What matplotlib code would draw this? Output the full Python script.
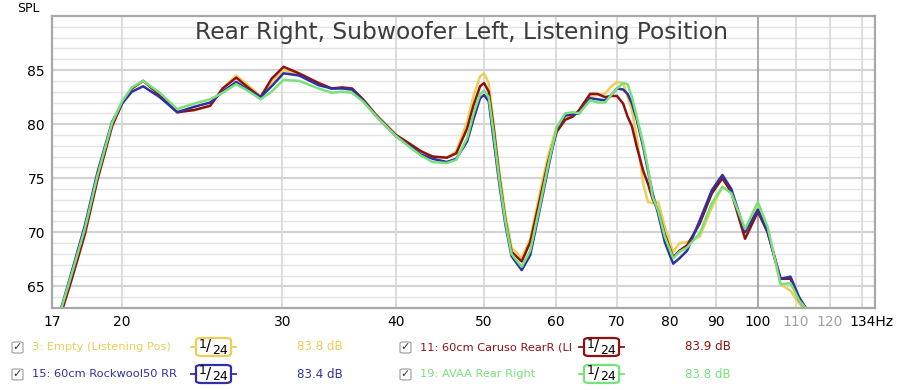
import matplotlib
matplotlib.use('Agg')
import matplotlib.pyplot as plt
from matplotlib.patches import FancyBboxPatch
from matplotlib.lines import Line2D

# frequency points (Hz)
freqs = [17.1, 17.2, 17.6, 18.2, 18.8, 19.5, 20.0, 20.5, 21.1, 22.0, 23.0, 24.0, 25.0, 25.8,
         26.7, 27.6, 28.4, 29.2, 30.1, 31.3, 32.9, 34.0, 34.9, 35.8, 36.8, 38.0, 40.0, 41.4,
         42.6, 43.9, 45.5, 46.6, 47.9, 48.7, 49.5, 50.0, 50.6, 51.2, 52.0, 52.8, 53.6, 55.0,
         56.2, 57.6, 58.8, 60.1, 61.4, 62.6, 63.6, 65.4, 66.6, 67.9, 69.0, 70.0, 71.1, 71.9,
         72.7, 73.6, 74.8, 75.7, 76.6, 77.7, 79.0, 80.7, 82.0, 83.6, 86.3, 89.0, 91.4, 93.5,
         96.8, 100.0, 102.5, 105.9, 108.6, 111.0, 113.3, 114.0]

spl_empty = [62.5, 63.2, 66.0, 70.2, 75.2, 80.0, 82.0, 83.3, 84.0, 82.8, 81.2, 81.3, 81.7, 83.3,
             84.5, 83.5, 82.6, 83.9, 85.0, 84.6, 83.8, 83.3, 83.3, 83.2, 82.3, 80.9, 79.0, 78.2,
             77.5, 77.0, 76.9, 77.5, 80.2, 82.7, 84.4, 84.7, 83.8, 80.2, 75.5, 71.6, 68.6, 67.6,
             69.4, 73.7, 77.1, 79.8, 80.6, 80.9, 81.2, 82.6, 82.7, 82.8, 83.5, 83.9, 83.8, 82.5,
             81.3, 78.8, 74.5, 72.8, 72.7, 72.8, 70.5, 68.2, 69.0, 69.1, 69.6, 72.3, 74.2, 73.7,
             70.0, 72.3, 70.3, 65.2, 64.6, 63.4, 62.6, 62.0]

spl_caruso = [62.2, 62.9, 65.6, 69.8, 74.9, 79.8, 81.9, 83.3, 84.0, 82.7, 81.1, 81.3, 81.7, 83.3,
              84.3, 83.3, 82.5, 84.2, 85.3, 84.7, 83.8, 83.3, 83.4, 83.3, 82.3, 80.9, 79.0, 78.2,
              77.5, 77.0, 76.9, 77.3, 79.6, 81.8, 83.5, 83.8, 83.0, 79.8, 75.0, 71.0, 68.2, 67.3,
              69.1, 73.1, 76.5, 79.3, 80.4, 80.7, 81.3, 82.8, 82.8, 82.5, 82.6, 82.6, 81.9, 80.7,
              79.8, 77.9, 75.7, 74.5, 73.1, 72.0, 69.8, 67.7, 68.3, 68.8, 70.8, 73.6, 75.0, 73.7,
              69.4, 71.9, 70.0, 65.7, 65.7, 63.7, 62.8, 62.0]

spl_rockwool = [62.7, 63.4, 66.3, 70.6, 75.6, 80.2, 81.9, 83.0, 83.5, 82.5, 81.1, 81.6, 82.0, 83.0,
                83.9, 83.1, 82.5, 83.5, 84.7, 84.5, 83.6, 83.3, 83.3, 83.2, 82.2, 80.8, 78.9, 78.0,
                77.2, 76.8, 76.5, 76.8, 78.4, 80.5, 82.4, 82.7, 82.1, 78.7, 74.3, 70.6, 67.8, 66.5,
                67.9, 72.2, 75.9, 79.6, 80.8, 80.9, 81.0, 82.4, 82.3, 82.2, 82.7, 83.3, 83.2, 82.8,
                81.9, 80.4, 77.9, 75.7, 73.6, 71.7, 69.1, 67.1, 67.6, 68.3, 71.1, 73.9, 75.3, 74.0,
                70.0, 72.1, 70.0, 65.7, 65.9, 64.0, 62.8, 62.0]

spl_avaa = [62.6, 63.3, 66.1, 70.3, 75.3, 80.1, 82.1, 83.4, 84.0, 82.9, 81.4, 81.9, 82.3, 82.9,
            83.7, 83.0, 82.3, 83.0, 84.1, 84.0, 83.3, 82.9, 83.0, 82.9, 82.1, 80.8, 78.9, 77.9,
            77.1, 76.5, 76.4, 76.7, 78.7, 81.0, 82.8, 83.1, 82.5, 79.3, 74.7, 70.9, 68.0, 66.8,
            68.3, 72.5, 76.2, 79.7, 81.0, 81.1, 81.0, 82.2, 82.0, 82.0, 82.7, 83.3, 83.8, 83.7,
            82.5, 80.7, 78.2, 76.0, 73.3, 72.0, 69.6, 67.6, 68.2, 68.6, 69.9, 72.7, 74.2, 73.6,
            70.3, 72.8, 70.5, 65.2, 65.3, 63.7, 62.8, 62.0]

labels = ['3: Empty (Listening Pos)', '11: 60cm Caruso RearR (Ll',
          '15: 60cm Rockwool50 RR', '19: AVAA Rear Right']
levels = ['83.8 dB', '83.9 dB', '83.4 dB', '83.8 dB']
colors = ['#ecce58', '#8e1212', '#3030a4', '#78e27a']
series = [spl_empty, spl_caruso, spl_rockwool, spl_avaa]

f_lo, f_hi = 16.75, 134.5
xticks = [f_lo, 20, 30, 40, 50, 60, 70, 80, 90, 100, 110, 120, 133.3]
xticklabels = ['17', '20', '30', '40', '50', '60', '70', '80', '90', '100', '110', '120', '134Hz']
yticks = [65, 70, 75, 80, 85]

W, H = 900, 390
fig = plt.figure(figsize=(9, 3.9), dpi=100)
fig.patch.set_facecolor('white')


def fx(x):
    return x / W


def fy(y):
    return 1 - y / H


ax = fig.add_axes([fx(52), fy(308), fx(875) - fx(52), fy(16) - fy(308)])
ax.set_xscale('log')
ax.set_xlim(f_lo, f_hi)
ax.set_ylim(63, 90)

# grid: 1 dB minor, 5 dB major, 10 Hz verticals
for v in range(64, 90):
    major = v % 5 == 0
    ax.axhline(v, color='#d2d2d2' if major else '#e4e4e4', lw=1.6 if major else 1.0, zorder=0)
for f in range(20, 131, 10):
    ax.axvline(f, color='#9a9a9a' if f == 100 else '#d6d6d6', lw=1.2, zorder=0)

for vals, c in zip(series, colors):
    ax.plot(freqs, vals, color=c, lw=1.8, solid_joinstyle='round', zorder=2)

ax.set_xticks(xticks)
ax.set_xticklabels(xticklabels)
ax.minorticks_off()
ax.set_yticks(yticks)
ax.tick_params(length=0, labelsize=10, pad=5, colors='black')
for lab in ax.get_xticklabels():
    if lab.get_text() in ('110', '120'):
        lab.set_color('#a0a0a0')
for sp in ax.spines.values():
    sp.set_color('#a8a8a8')
    sp.set_linewidth(1.6)

ax.text(0.498, 0.942, 'Rear Right, Subwoofer Left, Listening Position', transform=ax.transAxes,
        ha='center', va='center', fontsize=16.8, color='#3c3c3c')
fig.text(fx(28), fy(9), 'SPL', ha='center', va='center', fontsize=9)


def legend_entry(x, y, label, level, color):
    # checkbox
    fig.patches.append(FancyBboxPatch((fx(x), fy(y + 6)), fx(11), 11 / H,
                                      boxstyle='round,pad=0,rounding_size=0.003',
                                      transform=fig.transFigure, fc='white', ec='#9a9a9a', lw=0.8))
    fig.text(fx(x + 5.5), fy(y), '\u2713', ha='center', va='center', fontsize=8, color='#333333')
    fig.text(fx(x + 20), fy(y), label, ha='left', va='center', fontsize=8.2, color=color)
    # smoothing box
    bx = x + 184
    fig.patches.append(FancyBboxPatch((fx(bx), fy(y + 9)), fx(35), 18 / H,
                                      boxstyle='round,pad=0,rounding_size=0.006',
                                      transform=fig.transFigure, fc='white', ec=color, lw=1.6))
    fig.lines.append(Line2D([fx(bx - 5), fx(bx)], [fy(y), fy(y)], transform=fig.transFigure,
                            color=color, lw=1.3))
    fig.lines.append(Line2D([fx(bx + 35), fx(bx + 40)], [fy(y), fy(y)], transform=fig.transFigure,
                            color=color, lw=1.3))
    fig.text(fx(bx + 7), fy(y - 3), '1', ha='center', va='center', fontsize=9, color='black')
    fig.text(fx(bx + 13), fy(y), '/', ha='center', va='center', fontsize=11, color='black')
    fig.text(fx(bx + 24), fy(y + 3), '24', ha='center', va='center', fontsize=9, color='black')
    fig.text(fx(x + 285), fy(y), level, ha='left', va='center', fontsize=8.6, color=color)


legend_entry(12, 347, labels[0], levels[0], colors[0])
legend_entry(400, 347, labels[1], levels[1], colors[1])
legend_entry(12, 374, labels[2], levels[2], colors[2])
legend_entry(400, 374, labels[3], levels[3], colors[3])

plt.savefig('out.png', dpi=100)
plt.close()
